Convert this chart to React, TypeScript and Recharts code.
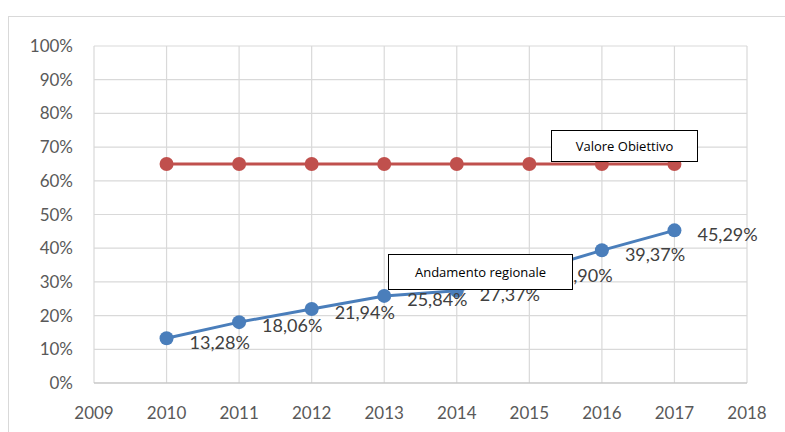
import { LineChart, Line, XAxis, YAxis, CartesianGrid, LabelList } from 'recharts';

const years = [2010, 2011, 2012, 2013, 2014, 2015, 2016, 2017];
const andamentoRegionale = [13.28, 18.06, 21.94, 25.84, 27.37, 32.9, 39.37, 45.29];
const valoreObiettivo = [65, 65, 65, 65, 65, 65, 65, 65];
const xTicks = [2009, 2010, 2011, 2012, 2013, 2014, 2015, 2016, 2017, 2018];
const yTicks = [0, 10, 20, 30, 40, 50, 60, 70, 80, 90, 100];

const data = years.map((y, i) => ({
  year: y,
  regionale: andamentoRegionale[i],
  obiettivo: valoreObiettivo[i],
}));

const FONT = "Lato, 'Open Sans', sans-serif";
const BLUE = '#4a7ebb';
const RED = '#c0504d';

const fmt = (v: number) => v.toFixed(2).replace('.', ',') + '%';

function PctLabel(props: any) {
  const { x, y, value } = props;
  return (
    <text x={x + 23} y={y + 4} dy="0.35em" fill="#404040" fontSize={18} fontFamily={FONT}>
      {fmt(value)}
    </text>
  );
}

const boxStyle = {
  position: 'absolute' as const,
  background: '#fff',
  border: '1px solid #000',
  fontFamily: "'Open Sans', sans-serif",
  fontSize: '13px',
  color: '#000',
  display: 'flex',
  alignItems: 'center',
  justifyContent: 'center',
  boxSizing: 'border-box' as const,
};

export default function App() {
  return (
    <div style={{ position: 'absolute', left: 0, top: 0, width: 785, height: 432, background: '#fff', overflow: 'hidden' }}>
      <div style={{ position: 'absolute', left: 8, top: 16, width: 790, height: 430, border: '1px solid #d9d9d9', boxSizing: 'border-box' }} />
      <LineChart width={785} height={432} data={data} margin={{ top: 46, right: 38, bottom: 0, left: 0 }}>
        <CartesianGrid stroke="#d9d9d9" strokeWidth={1.2} />
        <XAxis
          dataKey="year"
          type="number"
          domain={[2009, 2018]}
          ticks={xTicks}
          tickLine={false}
          axisLine={{ stroke: '#bfbfbf' }}
          tickMargin={18}
          tick={{ fill: '#595959', fontSize: 17, fontFamily: FONT }}
          height={49}
        />
        <YAxis
          type="number"
          domain={[0, 100]}
          ticks={yTicks}
          tickFormatter={(v: number) => `${v}%`}
          tickLine={false}
          axisLine={false}
          tickMargin={15}
          width={94}
          tick={{ fill: '#595959', fontSize: 17, fontFamily: FONT }}
        />
        <Line
          dataKey="obiettivo"
          stroke={RED}
          strokeWidth={3}
          dot={{ r: 7, fill: RED, stroke: RED, strokeWidth: 0 }}
          isAnimationActive={false}
        />
        <Line
          dataKey="regionale"
          stroke={BLUE}
          strokeWidth={3}
          dot={{ r: 7, fill: BLUE, stroke: BLUE, strokeWidth: 0 }}
          isAnimationActive={false}
        >
          <LabelList dataKey="regionale" content={PctLabel} />
        </Line>
      </LineChart>
      <div style={{ ...boxStyle, left: 551, top: 130, width: 147, height: 32 }}>Valore Obiettivo</div>
      <div style={{ ...boxStyle, left: 388, top: 254, width: 185, height: 36 }}>Andamento regionale</div>
    </div>
  );
}
